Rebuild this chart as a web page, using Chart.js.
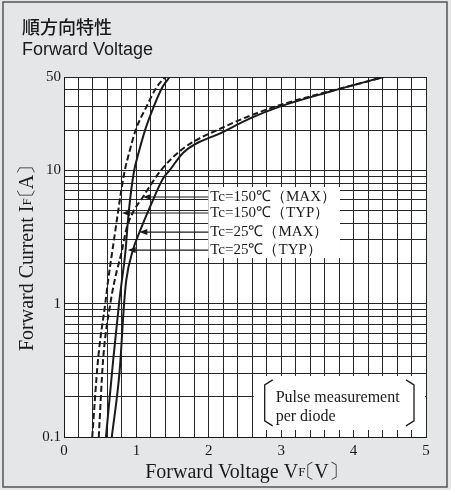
<!DOCTYPE html>
<html>
<head>
<meta charset="utf-8">
<script src="https://cdn.jsdelivr.net/npm/chart.js@4/dist/chart.umd.min.js"></script>
<style>
    html, body { margin: 0; padding: 0; background: #e5e6e7; }
    #c { display: block; }
</style>
</head>
<body>
<canvas id="c" width="451" height="490"></canvas>
<script>
// Forward voltage characteristics — Chart.js, linear x / log y

// ── Data ──────────────────────────────────────────────────────────────

const seriesNames = ['Tc=150℃（MAX）', 'Tc=150℃（TYP）', 'Tc=25℃（MAX）', 'Tc=25℃（TYP）'];

// Tc=150℃ MAX (dashed)
const vf150Max = [0.48, 0.54, 0.64, 0.70, 0.80, 0.86, 0.95, 1.09, 1.34, 1.65, 2.20, 2.60, 3.00, 3.50, 4.00, 4.42];
const if150Max = [0.1, 0.38, 1.0, 1.5, 2.5, 3.6, 4.8, 6.3, 10, 14.6, 21, 26, 31, 37, 43.5, 50];

// Tc=150℃ TYP (dashed)
const vf150Typ = [0.39, 0.47, 0.57, 0.61, 0.69, 0.75, 0.79, 0.84, 0.90, 0.99, 1.14, 1.28, 1.40];
const if150Typ = [0.1, 0.38, 1.0, 1.5, 3.0, 5.0, 7.0, 10, 13.5, 20, 30, 42, 50];

// Tc=25℃ MAX (solid)
const vf25Max = [0.66, 0.77, 0.83, 0.86, 0.95, 1.04, 1.20, 1.37, 1.46, 1.65, 2.20, 2.57, 2.98, 3.67, 4.41];
const if25Max = [0.1, 0.32, 1.0, 1.5, 2.5, 3.4, 5.5, 8.7, 10, 13.6, 19.4, 24.5, 30, 38.8, 50];

// Tc=25℃ TYP (solid)
const vf25Typ = [0.58, 0.68, 0.76, 0.80, 0.85, 0.88, 0.92, 0.97, 1.03, 1.12, 1.24, 1.36, 1.46];
const if25Typ = [0.1, 0.38, 1.0, 1.5, 2.5, 4.0, 6.5, 10, 13.5, 20, 30, 42, 50];

// where each label's arrow touches its curve
const arrowTipV = [1.09, 0.80, 1.04, 0.88];
const arrowTipI = [6.3, 4.78, 3.44, 2.52];

const xTickLabels = ['0', '1', '2', '3', '4', '5'];
const yTickLabels = ['0.1', '1', '10', '50'];
const yGridValues = [0.1, 0.2, 0.3, 0.4, 0.5, 0.6, 0.7, 0.8, 0.9,
                     1, 2, 3, 4, 5, 6, 7, 8, 9,
                     10, 20, 30, 40, 50];

// ── Helpers ───────────────────────────────────────────────────────────

const INK = '#1a1a1a';
const SERIF = '"Liberation Serif", "Times New Roman", serif';

function toPoints(vs, is) {
    return vs.map((v, i) => ({ x: v, y: is[i] }));
}

function curve(label, vs, is, dashed) {
    return {
        label,
        data: toPoints(vs, is),
        borderColor: INK,
        borderWidth: 2,
        borderDash: dashed ? [6, 3] : [],
        pointRadius: 0,
        fill: false,
        cubicInterpolationMode: 'monotone',
    };
}

// draws runs of [text, size, shiftBefore, advance] centred on x;
// shift/advance let the full-width 〔 〕 sit tight like the original
function drawRuns(ctx, runs, x, y) {
    const widths = runs.map(([s, size, shift = 0, adv]) => {
        ctx.font = `${size}px ${SERIF}`;
        return adv !== undefined ? adv : ctx.measureText(s).width;
    });
    let cx = x - widths.reduce((p, w) => p + w, 0) / 2;
    runs.forEach(([s, size, shift = 0], i) => {
        ctx.font = `${size}px ${SERIF}`;
        ctx.fillText(s, cx + shift, y);
        cx += widths[i];
    });
}

function axisTitle(main, sub, unit) {
    return [[main, 20], [sub, 13], ['〔', 20, -10, 9], [unit, 20], ['〕', 20, 0, 8]];
}

// ── Decorations plugin ────────────────────────────────────────────────

const decorations = {
    id: 'decorations',
    beforeDraw(chart) {
        const { ctx, chartArea: a } = chart;
        ctx.save();
        ctx.fillStyle = '#e5e6e7';
        ctx.fillRect(0, 0, chart.width, chart.height);
        ctx.strokeStyle = '#555';
        ctx.lineWidth = 1.5;
        ctx.strokeRect(3, 2, chart.width - 7, chart.height - 5);
        ctx.fillStyle = '#fff';
        ctx.fillRect(a.left, a.top, a.right - a.left, a.bottom - a.top);

        ctx.fillStyle = INK;
        ctx.textBaseline = 'alphabetic';
        ctx.textAlign = 'left';
        ctx.font = '500 18px "Noto Sans CJK JP"';
        ctx.fillText('順方向特性', 22, 34);
        ctx.font = '18px "Liberation Sans", Arial, sans-serif';
        ctx.fillText('Forward Voltage', 22, 55);
        ctx.restore();
    },
    afterDatasetsDraw(chart) {
        const { ctx, chartArea: a } = chart;
        const xs = chart.scales.x, ys = chart.scales.y;
        ctx.save();

        // series labels with arrows
        ctx.font = `15px ${SERIF}`;
        const textX = xs.getPixelForValue(2.02);
        const rows = arrowTipI.map(v => ys.getPixelForValue(v));
        const maxW = Math.max(...seriesNames.map(s => ctx.measureText(s).width));
        ctx.fillStyle = '#fff';
        ctx.fillRect(textX - 2, rows[0] - 10, maxW + 6, rows[3] - rows[0] + 18);

        ctx.fillStyle = INK;
        ctx.strokeStyle = INK;
        ctx.lineWidth = 1.2;
        ctx.textBaseline = 'middle';
        seriesNames.forEach((s, i) => {
            ctx.fillText(s, textX, rows[i]);
            const tip = xs.getPixelForValue(arrowTipV[i]);
            ctx.beginPath();
            ctx.moveTo(textX - 2, rows[i]);
            ctx.lineTo(tip + 4, rows[i]);
            ctx.stroke();
            ctx.beginPath();
            ctx.moveTo(tip, rows[i]);
            ctx.lineTo(tip + 8, rows[i] - 3);
            ctx.lineTo(tip + 8, rows[i] + 3);
            ctx.closePath();
            ctx.fill();
        });

        // pulse measurement note
        const bx = xs.getPixelForValue(2.62), by = ys.getPixelForValue(0.287);
        const bw = a.right - 1 - bx, bh = a.bottom - 7 - by;
        ctx.fillStyle = '#fff';
        ctx.fillRect(bx, by, bw, bh);
        ctx.fillStyle = INK;
        ctx.font = `16px ${SERIF}`;
        ctx.fillText('Pulse measurement', bx + 22, by + 22);
        ctx.fillText('per diode', bx + 22, by + 41);

        ctx.lineWidth = 1.3;
        const l = bx + 11, r = bx + bw - 11, t = by + 9, b = by + 45;
        ctx.beginPath();
        ctx.moveTo(l + 8, t - 5); ctx.lineTo(l, t); ctx.lineTo(l, b); ctx.lineTo(l + 8, b + 5);
        ctx.moveTo(r - 8, t - 5); ctx.lineTo(r, t); ctx.lineTo(r, b); ctx.lineTo(r - 8, b + 5);
        ctx.stroke();
        ctx.restore();
    },
    afterDraw(chart) {
        const { ctx, chartArea: a } = chart;
        ctx.save();
        ctx.fillStyle = INK;
        ctx.textBaseline = 'middle';
        ctx.textAlign = 'left';
        drawRuns(ctx, axisTitle('Forward Voltage V', 'F', 'V'), (a.left + a.right) / 2 - 4, 473);
        ctx.translate(28, (a.top + a.bottom) / 2 + 2);
        ctx.rotate(-Math.PI / 2);
        drawRuns(ctx, axisTitle('Forward Current I', 'F', 'A'), 0, 0);
        ctx.restore();
    },
};

// ── Chart ─────────────────────────────────────────────────────────────

const gridStyle = { color: '#262626', lineWidth: 1, drawTicks: false };

new Chart(document.getElementById('c'), {
    type: 'line',
    data: {
        datasets: [
            curve(seriesNames[0], vf150Max, if150Max, true),
            curve(seriesNames[1], vf150Typ, if150Typ, true),
            curve(seriesNames[2], vf25Max, if25Max, false),
            curve(seriesNames[3], vf25Typ, if25Typ, false),
        ],
    },
    options: {
        responsive: false,
        animation: false,
        layout: { padding: { top: 77, right: 25, left: 0, bottom: 0 } },
        plugins: { legend: { display: false }, tooltip: { enabled: false } },
        scales: {
            x: {
                type: 'linear',
                min: 0,
                max: 5,
                grid: gridStyle,
                border: { color: INK },
                ticks: {
                    stepSize: 0.2,
                    autoSkip: false,
                    maxRotation: 0,
                    padding: 5,
                    color: INK,
                    font: { family: SERIF, size: 15 },
                    callback: v => {
                        const n = Math.round(v * 1000) / 1000;
                        return Number.isInteger(n) ? xTickLabels[n] : '';
                    },
                },
                afterFit: s => { s.height = 53; },
            },
            y: {
                type: 'logarithmic',
                min: 0.1,
                max: 50,
                grid: gridStyle,
                border: { color: INK },
                afterBuildTicks: s => { s.ticks = yGridValues.map(v => ({ value: v })); },
                ticks: {
                    autoSkip: false,
                    padding: 3,
                    color: INK,
                    font: { family: SERIF, size: 15 },
                    callback: v => yTickLabels.find(l => Number(l) === v) || '',
                },
                afterFit: s => { s.width = 64; },
            },
        },
    },
    plugins: [decorations],
});
</script>
</body>
</html>
